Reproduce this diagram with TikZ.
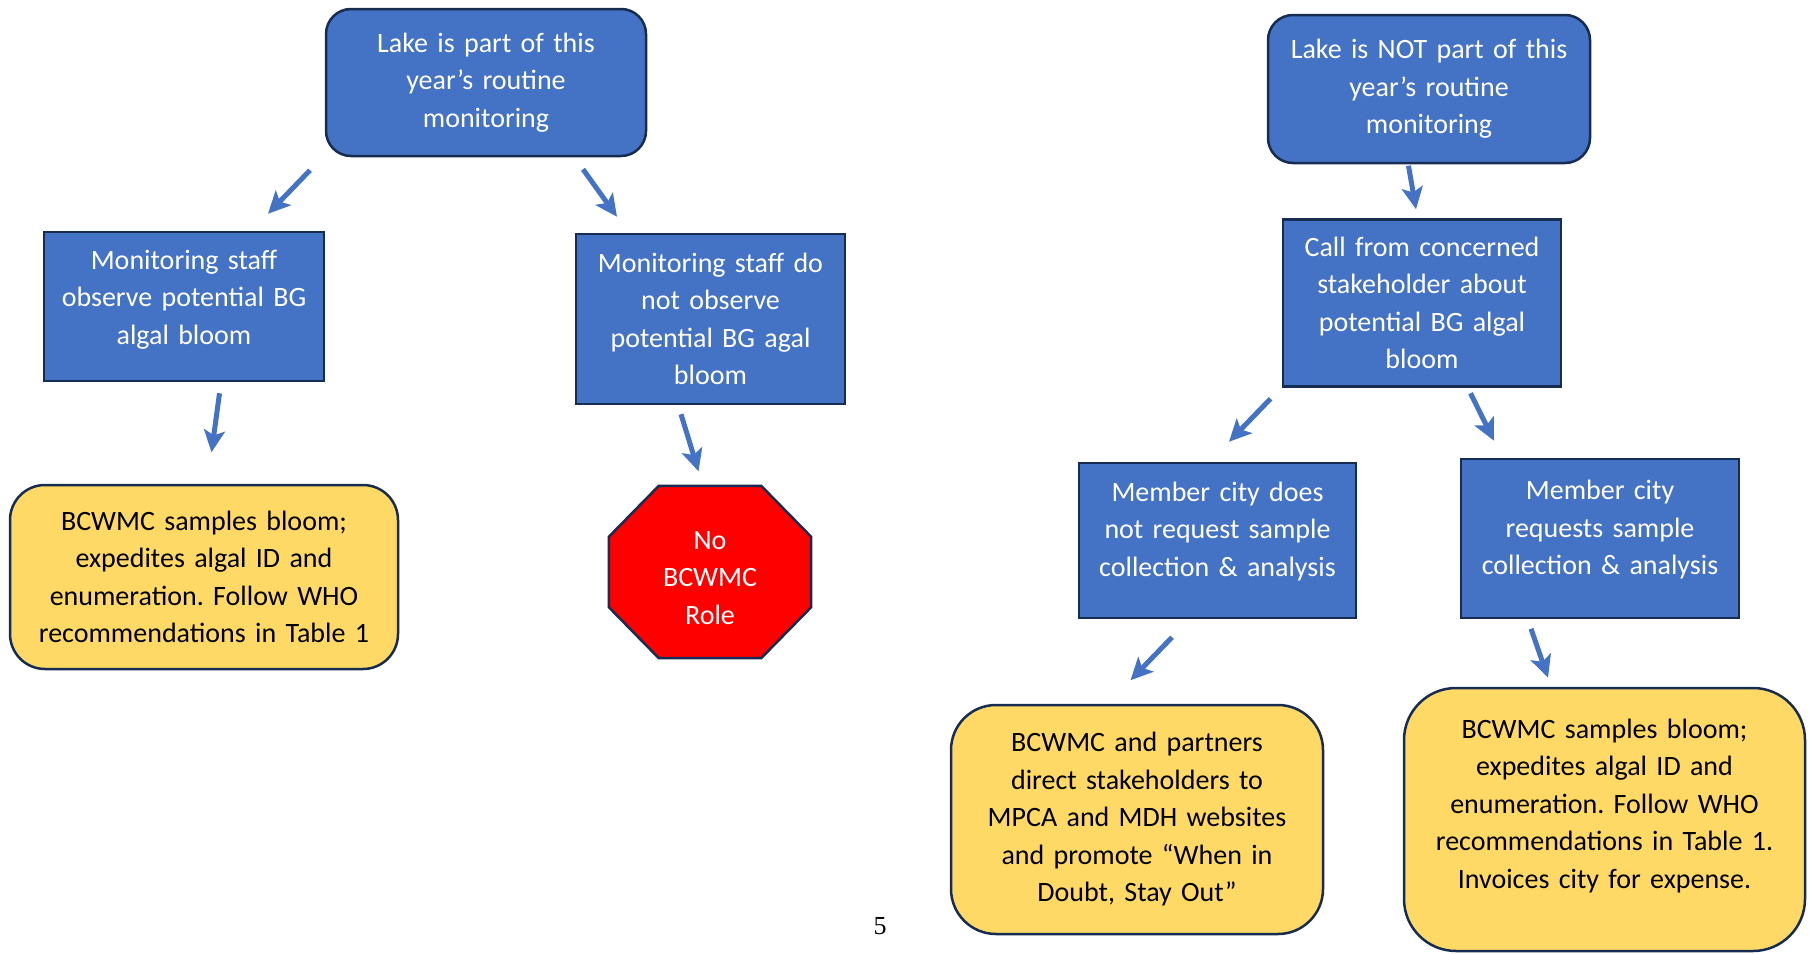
\documentclass[tikz,border=0pt]{standalone}
\usepackage{fontspec}
\setmainfont{Carlito}
\newfontfamily\pagefont{Liberation Serif}
\usetikzlibrary{arrows.meta}
\definecolor{boxblue}{HTML}{4472C4}
\definecolor{navy}{HTML}{172C51}
\definecolor{boxyellow}{HTML}{FFD966}
\pgfdeclarelayer{background}
\pgfsetlayers{background,main}
\frenchspacing

\begin{document}
\begin{tikzpicture}[x=1pt, y=-1pt, font=\fontsize{28}{37.5}\selectfont,
  bluebox/.style={draw=navy, line width=2.5pt, fill=boxblue, text=white, align=center, inner sep=0pt},
  yellowbox/.style={draw=navy, line width=2.5pt, fill=boxyellow, text=black, align=center, inner sep=0pt},
  stoptext/.style={text=white, align=center, inner sep=0pt},
  stopsign/.style={draw=navy, line width=2.5pt, fill=red},
  flow/.style={boxblue, line width=5pt, -{Stealth[length=22pt, width=21pt, inset=5pt]}}]

\useasboundingbox (0,0) rectangle (1809,953);

% routine monitoring side
\node[bluebox, rounded corners=25pt, minimum width=320pt, minimum height=147pt, text width=300pt] (part) at (486,82.5) {Lake is part of this\\year’s routine\\monitoring};
\node[bluebox, minimum width=280pt, minimum height=149pt, text width=262pt] (seen) at (184,306.5) {Monitoring staff\\observe potential BG\\algal bloom\par\vspace*{14pt}};
\node[bluebox, minimum width=269pt, minimum height=170pt, text width=255pt] (unseen) at (710.5,319) {Monitoring staff do\\not observe\\potential BG agal\\bloom};
\node[yellowbox, rounded corners=35pt, minimum width=388pt, minimum height=184pt, text width=366pt] (sampleleft) at (204,577) {BCWMC samples bloom;\\expedites algal ID and\\enumeration. Follow WHO\\recommendations in Table 1};
\node[stoptext, minimum width=202pt, minimum height=184pt] (stop) at (710,578) {No\\BCWMC\\Role};
\begin{pgfonlayer}{background}
\filldraw[stopsign] ([xshift=50pt]stop.north west) -- ([xshift=-50pt]stop.north east)
  -- ([yshift=-51pt]stop.north east) -- ([yshift=63pt]stop.south east)
  -- ([xshift=-50pt,yshift=12pt]stop.south east) -- ([xshift=50pt,yshift=12pt]stop.south west)
  -- ([yshift=63pt]stop.south west) -- ([yshift=-51pt]stop.north west) -- cycle;
\end{pgfonlayer}

\draw[flow] ([shift={(-176,13)}]part.south) -- ([shift={(84,-17)}]seen.north);
\draw[flow] ([shift={(97,12)}]part.south) -- ([shift={(-93.5,-16)}]unseen.north);
\draw[flow] ([shift={(35.5,11)}]seen.south) -- ([shift={(7.5,-31.5)}]sampleleft.north);
\draw[flow] ([shift={(-29.5,9)}]unseen.south) -- ([shift={(-11.5,-14.5)}]stop.north);

% not routine side
\node[bluebox, rounded corners=25pt, minimum width=322pt, minimum height=148pt, text width=302pt] (notpart) at (1429,89) {Lake is NOT part of this\\year’s routine\\monitoring};
\node[bluebox, minimum width=278pt, minimum height=167pt, text width=262pt] (call) at (1422,303) {Call from concerned\\stakeholder about\\potential BG algal\\bloom};
\node[bluebox, minimum width=277pt, minimum height=155pt, text width=264pt] (nocity) at (1217.5,540.5) {Member city does\\not request sample\\collection \& analysis\par\vspace*{18pt}};
\node[bluebox, minimum width=278pt, minimum height=159pt, text width=266pt] (city) at (1600,538.5) {Member city\\requests sample\\collection \& analysis\par\vspace*{17pt}};
\node[yellowbox, rounded corners=45pt, minimum width=372pt, minimum height=229pt, text width=350pt] (direct) at (1137,819.5) {BCWMC and partners\\direct stakeholders to\\MPCA and MDH websites\\and promote “When in\\Doubt, Stay Out”};
\node[yellowbox, rounded corners=52pt, minimum width=401pt, minimum height=263pt, text width=379pt] (sampleright) at (1604.5,819.5) {BCWMC samples bloom;\\expedites algal ID and\\enumeration. Follow WHO\\recommendations in Table 1.\\Invoices city for expense.\par\vspace*{27pt}};

\draw[flow] ([shift={(-20.5,1.5)}]notpart.south) -- ([shift={(-6,-9)}]call.north);
\draw[flow] ([shift={(-151.5,11)}]call.south) -- ([shift={(11.5,-20)}]nocity.north);
\draw[flow] ([shift={(48.5,5.5)}]call.south) -- ([shift={(-106,-17)}]city.north);
\draw[flow] ([shift={(-45.5,18)}]nocity.south) -- ([shift={(-6.5,-23.5)}]direct.north);
\draw[flow] ([shift={(-69,9.5)}]city.south) -- ([shift={(-56.5,-9)}]sampleright.north);

\node[font=\pagefont\fontsize{26}{30}\selectfont] (pagenum) at (880,926) {5};

\end{tikzpicture}
\end{document}
